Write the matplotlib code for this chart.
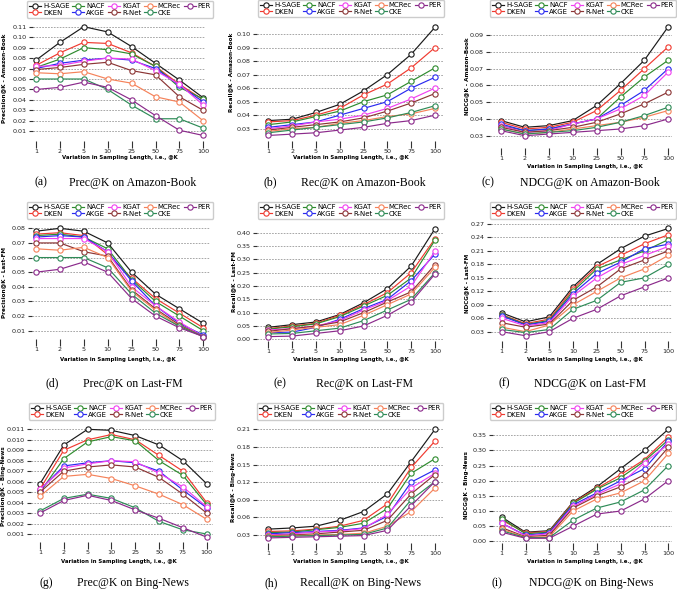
import numpy as np
import matplotlib.pyplot as plt
from matplotlib.ticker import FormatStrFormatter

W, H = 677, 590

models = ['H-SAGE', 'DKEN', 'NACF', 'AKGE', 'KGAT', 'R-Net', 'MCRec', 'CKE', 'PER']
colors = ['#1a1a1a', '#f03a30', '#2e8b2e', '#2a2af0', '#f040f0',
          '#8b3535', '#f5825a', '#2e8b57', '#8b2a8b']
k_labels = ['1', '2', '5', '10', '25', '50', '75', '100']

# rows follow the order of `models`
prec_amazon = [
    [0.078, 0.095, 0.110, 0.105, 0.091, 0.075, 0.059, 0.042],
    [0.073, 0.085, 0.095, 0.094, 0.085, 0.072, 0.055, 0.040],
    [0.071, 0.079, 0.090, 0.088, 0.084, 0.072, 0.052, 0.041],
    [0.070, 0.075, 0.078, 0.080, 0.078, 0.070, 0.054, 0.038],
    [0.072, 0.073, 0.077, 0.080, 0.079, 0.068, 0.055, 0.035],
    [0.069, 0.071, 0.074, 0.076, 0.068, 0.064, 0.043, 0.030],
    [0.066, 0.065, 0.067, 0.060, 0.056, 0.043, 0.038, 0.020],
    [0.060, 0.060, 0.060, 0.050, 0.035, 0.022, 0.022, 0.013],
    [0.050, 0.052, 0.057, 0.052, 0.040, 0.025, 0.011, 0.006],
]
rec_amazon = [
    [0.036, 0.037, 0.042, 0.048, 0.058, 0.070, 0.085, 0.105],
    [0.035, 0.036, 0.040, 0.045, 0.055, 0.063, 0.075, 0.090],
    [0.033, 0.035, 0.039, 0.043, 0.050, 0.055, 0.065, 0.075],
    [0.031, 0.033, 0.035, 0.040, 0.045, 0.050, 0.060, 0.068],
    [0.030, 0.032, 0.035, 0.037, 0.040, 0.045, 0.052, 0.060],
    [0.029, 0.031, 0.033, 0.035, 0.038, 0.043, 0.049, 0.056],
    [0.028, 0.030, 0.031, 0.034, 0.036, 0.039, 0.041, 0.045],
    [0.027, 0.029, 0.031, 0.033, 0.035, 0.038, 0.042, 0.047],
    [0.025, 0.026, 0.027, 0.029, 0.031, 0.034, 0.036, 0.040],
]
ndcg_amazon = [
    [0.039, 0.035, 0.036, 0.039, 0.048, 0.061, 0.075, 0.095],
    [0.038, 0.034, 0.035, 0.038, 0.045, 0.057, 0.070, 0.083],
    [0.036, 0.033, 0.034, 0.037, 0.040, 0.053, 0.065, 0.075],
    [0.037, 0.033, 0.034, 0.037, 0.040, 0.048, 0.057, 0.070],
    [0.036, 0.032, 0.033, 0.037, 0.040, 0.046, 0.054, 0.068],
    [0.035, 0.032, 0.033, 0.035, 0.038, 0.043, 0.049, 0.056],
    [0.034, 0.031, 0.032, 0.034, 0.036, 0.038, 0.041, 0.045],
    [0.034, 0.031, 0.032, 0.033, 0.035, 0.038, 0.042, 0.047],
    [0.033, 0.030, 0.031, 0.032, 0.033, 0.034, 0.036, 0.040],
]
prec_lastfm = [
    [0.078, 0.080, 0.078, 0.070, 0.050, 0.035, 0.025, 0.015],
    [0.076, 0.077, 0.075, 0.062, 0.046, 0.032, 0.022, 0.012],
    [0.075, 0.076, 0.074, 0.066, 0.045, 0.030, 0.020, 0.010],
    [0.074, 0.075, 0.074, 0.064, 0.044, 0.027, 0.015, 0.007],
    [0.073, 0.073, 0.073, 0.064, 0.040, 0.027, 0.016, 0.006],
    [0.070, 0.070, 0.064, 0.061, 0.038, 0.025, 0.014, 0.006],
    [0.066, 0.065, 0.067, 0.060, 0.037, 0.024, 0.013, 0.006],
    [0.060, 0.060, 0.060, 0.053, 0.035, 0.022, 0.013, 0.006],
    [0.050, 0.052, 0.057, 0.050, 0.032, 0.020, 0.012, 0.006],
]
rec_lastfm = [
    [0.045, 0.055, 0.065, 0.093, 0.137, 0.190, 0.275, 0.415],
    [0.040, 0.050, 0.060, 0.090, 0.130, 0.175, 0.250, 0.378],
    [0.038, 0.047, 0.058, 0.085, 0.125, 0.165, 0.230, 0.372],
    [0.025, 0.027, 0.045, 0.075, 0.115, 0.150, 0.220, 0.320],
    [0.035, 0.040, 0.050, 0.070, 0.110, 0.145, 0.200, 0.330],
    [0.030, 0.040, 0.050, 0.065, 0.100, 0.140, 0.178, 0.280],
    [0.025, 0.035, 0.045, 0.055, 0.090, 0.130, 0.170, 0.270],
    [0.020, 0.022, 0.032, 0.042, 0.070, 0.110, 0.150, 0.250],
    [0.010, 0.012, 0.022, 0.032, 0.050, 0.090, 0.140, 0.245],
]
ndcg_lastfm = [
    [0.072, 0.052, 0.063, 0.130, 0.180, 0.215, 0.243, 0.260],
    [0.068, 0.048, 0.058, 0.125, 0.175, 0.200, 0.226, 0.246],
    [0.067, 0.046, 0.055, 0.120, 0.170, 0.190, 0.210, 0.235],
    [0.065, 0.045, 0.053, 0.115, 0.160, 0.185, 0.215, 0.225],
    [0.060, 0.043, 0.050, 0.110, 0.150, 0.180, 0.200, 0.220],
    [0.050, 0.040, 0.047, 0.100, 0.130, 0.170, 0.190, 0.210],
    [0.040, 0.030, 0.045, 0.090, 0.120, 0.150, 0.170, 0.200],
    [0.035, 0.028, 0.035, 0.080, 0.100, 0.140, 0.150, 0.180],
    [0.030, 0.021, 0.030, 0.060, 0.080, 0.110, 0.130, 0.150],
]
prec_bing = [
    [0.0058, 0.0095, 0.0110, 0.0109, 0.0104, 0.0095, 0.0080, 0.0058],
    [0.0053, 0.0090, 0.0100, 0.0105, 0.0100, 0.0085, 0.0070, 0.0040],
    [0.0050, 0.0082, 0.0098, 0.0103, 0.0099, 0.0080, 0.0066, 0.0038],
    [0.0052, 0.0075, 0.0078, 0.0080, 0.0078, 0.0070, 0.0052, 0.0035],
    [0.0053, 0.0073, 0.0077, 0.0080, 0.0079, 0.0068, 0.0055, 0.0036],
    [0.0050, 0.0070, 0.0074, 0.0076, 0.0074, 0.0064, 0.0048, 0.0030],
    [0.0046, 0.0065, 0.0067, 0.0063, 0.0056, 0.0048, 0.0038, 0.0024],
    [0.0032, 0.0044, 0.0048, 0.0044, 0.0035, 0.0022, 0.0014, 0.0010],
    [0.0030, 0.0042, 0.0047, 0.0042, 0.0033, 0.0025, 0.0016, 0.0007],
]
rec_bing = [
    [0.040, 0.042, 0.045, 0.055, 0.070, 0.100, 0.155, 0.210],
    [0.036, 0.037, 0.040, 0.045, 0.055, 0.083, 0.145, 0.190],
    [0.034, 0.035, 0.039, 0.043, 0.050, 0.075, 0.135, 0.160],
    [0.032, 0.034, 0.036, 0.038, 0.042, 0.062, 0.120, 0.141],
    [0.030, 0.032, 0.035, 0.037, 0.041, 0.065, 0.110, 0.135],
    [0.029, 0.030, 0.032, 0.035, 0.038, 0.055, 0.100, 0.133],
    [0.028, 0.029, 0.030, 0.031, 0.033, 0.045, 0.070, 0.110],
    [0.027, 0.028, 0.029, 0.030, 0.031, 0.042, 0.090, 0.121],
    [0.025, 0.026, 0.027, 0.028, 0.029, 0.038, 0.080, 0.121],
]
ndcg_bing = [
    [0.080, 0.030, 0.035, 0.130, 0.180, 0.240, 0.300, 0.370],
    [0.070, 0.028, 0.032, 0.128, 0.175, 0.220, 0.270, 0.345],
    [0.075, 0.025, 0.030, 0.125, 0.172, 0.210, 0.265, 0.335],
    [0.060, 0.020, 0.028, 0.120, 0.160, 0.200, 0.240, 0.330],
    [0.060, 0.018, 0.025, 0.115, 0.155, 0.190, 0.260, 0.320],
    [0.045, 0.015, 0.020, 0.110, 0.150, 0.180, 0.220, 0.310],
    [0.040, 0.013, 0.015, 0.100, 0.140, 0.160, 0.200, 0.290],
    [0.035, 0.012, 0.012, 0.070, 0.110, 0.130, 0.170, 0.250],
    [0.030, 0.010, 0.010, 0.050, 0.090, 0.100, 0.140, 0.200],
]

# data, yticks, tick format, ylabel, letter, caption
panels = [
    (prec_amazon, np.arange(0.01, 0.115, 0.01), '%.2f', 'Precision@K - Amazon-Book', '(a)', 'Prec@K on Amazon-Book'),
    (rec_amazon, np.arange(0.03, 0.105, 0.01), '%.2f', 'Recall@K - Amazon-Book', '(b)', 'Rec@K on Amazon-Book'),
    (ndcg_amazon, np.arange(0.03, 0.095, 0.01), '%.2f', 'NDCG@K - Amazon-Book', '(c)', 'NDCG@K on Amazon-Book'),
    (prec_lastfm, np.arange(0.01, 0.085, 0.01), '%.2f', 'Precision@K - Last-FM', '(d)', 'Prec@K on Last-FM'),
    (rec_lastfm, np.arange(0.0, 0.405, 0.05), '%.2f', 'Recall@K - Last-FM', '(e)', 'Rec@K on Last-FM'),
    (ndcg_lastfm, np.arange(0.03, 0.275, 0.03), '%.2f', 'NDCG@K - Last-FM', '(f)', 'NDCG@K on Last-FM'),
    (prec_bing, np.arange(0.001, 0.0115, 0.001), '%.3f', 'Precision@K - Bing-News', '(g)', 'Prec@K on Bing-News'),
    (rec_bing, np.arange(0.03, 0.215, 0.03), '%.2f', 'Recall@K - Bing-News', '(h)', 'Recall@K on Bing-News'),
    (ndcg_bing, np.arange(0.0, 0.355, 0.05), '%.2f', 'NDCG@K - Bing-News', '(i)', 'NDCG@K on Bing-News'),
]

# pixel layout of each panel:
# axes box (L, R, T, B), x of first/last point, two y ticks (value, px),
# legend (cx, top), xlabel (cx, cy), ylabel (cx, cy), caption (letter x, title x, y)
layout = [
    (33, 205, 20, 141, 36, 203.3, (0.11, 26.7), (0.01, 131.3), (120, 1), (120, 158), (4, 78), (41, 133, 182.5)),
    (257, 443, 25, 141, 268.3, 435, (0.10, 34), (0.03, 128.7), (351, 0), (351, 157), (231, 72), (270, 363, 182.5)),
    (490, 672, 27, 148, 501, 668.3, (0.09, 35), (0.03, 135.7), (583, 0), (585, 166.7), (467, 76), (488, 590, 182.5)),
    (32, 210, 222, 339, 36, 203.3, (0.08, 228.3), (0.01, 330.7), (120, 202), (118, 359), (4, 283), (52, 133, 383.5)),
    (257, 443, 224, 341, 268.3, 435, (0.40, 232.7), (0.00, 339.3), (351, 202), (351, 359.3), (234, 282), (280, 365, 383.5)),
    (491, 672, 218, 341, 501.7, 668.3, (0.27, 224), (0.03, 331.7), (583, 202), (585, 359.3), (467, 283), (504, 590, 383.5)),
    (31, 213, 425, 542, 40, 206.7, (0.011, 429.3), (0.001, 534), (122, 403), (119, 561), (4, 486), (46, 133, 583)),
    (257, 443, 425, 543, 268.3, 435, (0.21, 429.3), (0.03, 535), (350, 403), (351, 561), (234, 487), (271, 360, 583)),
    (493, 672, 428, 543, 501.7, 668.3, (0.35, 435.3), (0.00, 541.3), (583, 403), (585, 561), (467, 485), (497, 591, 583)),
]

fig = plt.figure(figsize=(W / 100, H / 100), dpi=100)
x = np.arange(len(k_labels))

for (data, yticks, fmt, ylabel, letter, caption), geo in zip(panels, layout):
    L, R, T, B, x1, x8, (v1, p1), (v2, p2), leg, xl, yl, cap = geo
    ax = fig.add_axes([L / W, 1 - B / H, (R - L) / W, (B - T) / H])

    for vals, name, c in zip(data, models, colors):
        ax.plot(x, vals, color=c, lw=0.85, marker='o', ms=3.8, mfc='white',
                mec=c, mew=0.8, label=name, clip_on=False)

    unit = (x8 - x1) / 7
    ax.set_xlim(-(x1 - L) / unit, 7 + (R - x8) / unit)
    slope = (v2 - v1) / (p2 - p1)
    ax.set_ylim(v1 + (B - p1) * slope, v1 + (T - p1) * slope)

    ax.set_xticks(x)
    ax.set_xticklabels(k_labels)
    ax.set_yticks(yticks)
    ax.yaxis.set_major_formatter(FormatStrFormatter(fmt))
    for s in ax.spines.values():
        s.set_visible(False)
    ax.tick_params(axis='x', length=5, width=0.8, color='#333333', pad=1,
                   labelsize=4.6, labelcolor='#222222')
    ax.tick_params(axis='y', length=3, width=0.8, color='#333333', pad=1.5,
                   labelsize=4.6, labelcolor='#222222')
    ax.yaxis.grid(True, linestyle=(0, (2, 1.5)), color='#999999', lw=0.6)
    ax.set_axisbelow(True)

    ax.legend(loc='upper center', bbox_to_anchor=(leg[0] / W, 1 - leg[1] / H),
              bbox_transform=fig.transFigure, ncol=5, fontsize=5.0,
              handlelength=1.7, handletextpad=0.3, columnspacing=0.4,
              labelspacing=0.1, borderpad=0.3, borderaxespad=0,
              framealpha=1, edgecolor='#cccccc')

    fig.text(xl[0] / W, 1 - xl[1] / H, 'Variation in Sampling Length, i.e., @K',
             fontsize=3.9, fontweight='bold', ha='center', va='center')
    fig.text(yl[0] / W, 1 - yl[1] / H, ylabel, fontsize=4.1, fontweight='bold',
             rotation=90, ha='center', va='center')
    fig.text(cap[0] / W, 1 - cap[2] / H, letter, family='Liberation Serif',
             fontsize=8.5, ha='center', va='center')
    fig.text(cap[1] / W, 1 - cap[2] / H, caption, family='Liberation Serif',
             fontsize=8.5, ha='center', va='center')

fig.savefig('out.png', dpi=100)
